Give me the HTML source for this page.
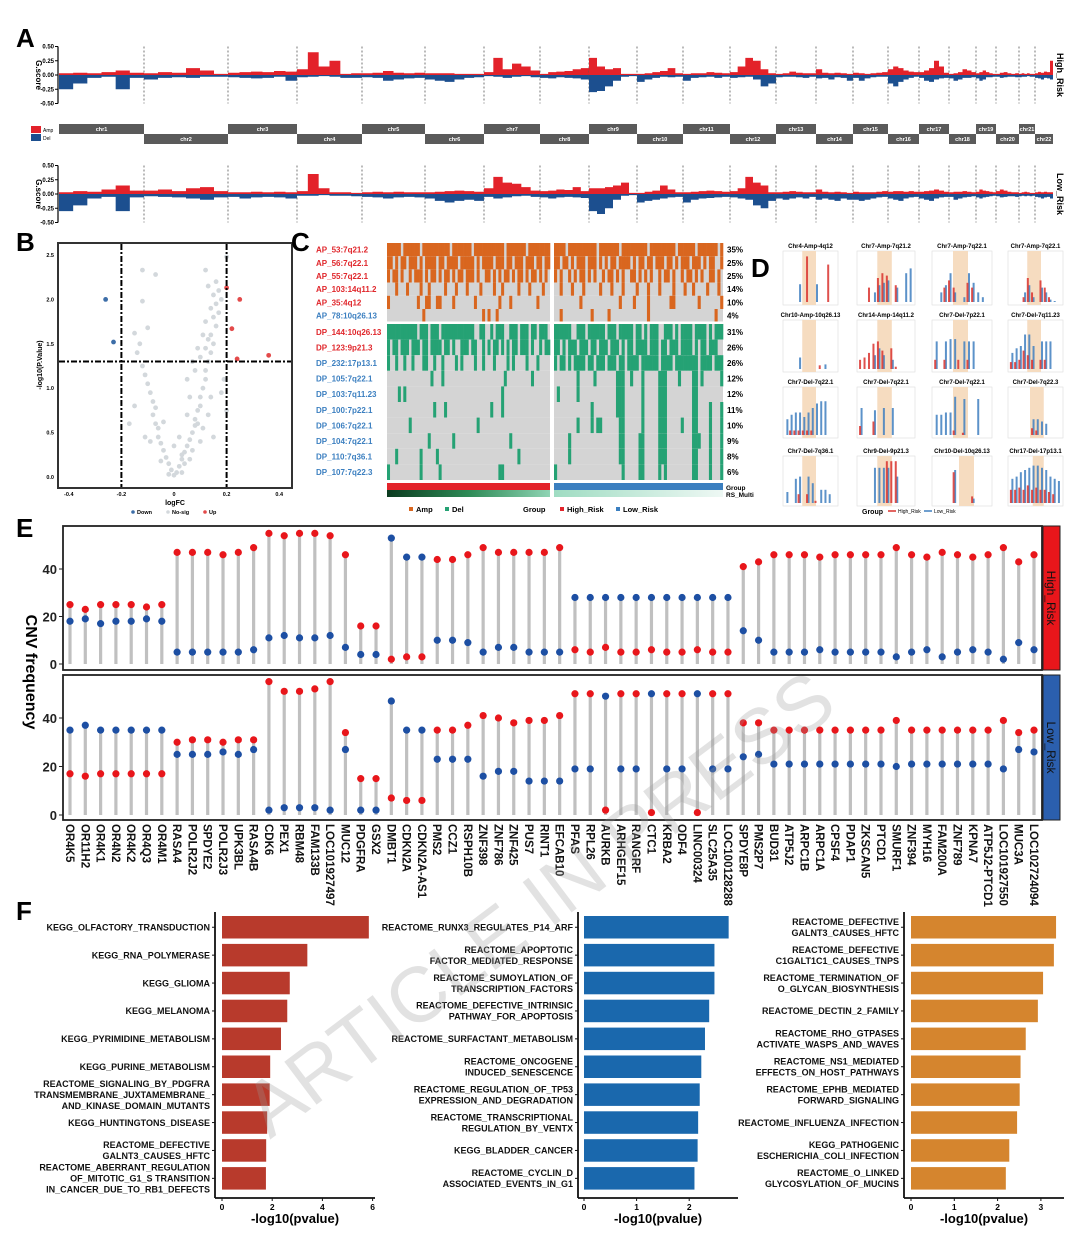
<!DOCTYPE html>
<html><head><meta charset="utf-8"><title>CNV figure</title>
<style>
html,body{margin:0;padding:0;background:#fff;}
svg{display:block;font-family:"Liberation Sans",Arial,sans-serif;}
</style></head>
<body>
<svg id="fig" width="1080" height="1233" viewBox="0 0 1080 1233" xmlns="http://www.w3.org/2000/svg">
<defs>
<linearGradient id="rsL" x1="0" x2="1" y1="0" y2="0"><stop offset="0" stop-color="#0b3b1f"/><stop offset="0.5" stop-color="#2e8b57"/><stop offset="1" stop-color="#8fd4b4"/></linearGradient>
<linearGradient id="rsR" x1="0" x2="1" y1="0" y2="0"><stop offset="0" stop-color="#9fdcc2"/><stop offset="1" stop-color="#eef8f4"/></linearGradient>
</defs>
</svg>
<script>
// ===================== DATA =====================
// Panel A
const chrNames = ["chr1","chr2","chr3","chr4","chr5","chr6","chr7","chr8","chr9","chr10","chr11","chr12","chr13","chr14","chr15","chr16","chr17","chr18","chr19","chr20","chr21","chr22"];
const chrLengths = [85,84,69,65,63,59,56,49,48,46,47,46,40,37,35,31,30,27,20,23,16,18];
const highAmp = [[.03,.04,.03,.05,.08,.04],[.03,.05,.04,.12,.08,.02],[.04,.05,.06,.05,.07,.06],[.1,.4,.15,.25,.02,.03],[.03,.04,.07,.04,.03,.04],[.03,.03,.03,.02,.02,.02],[.05,.3,.1,.2,.15,.08],[.02,.05,.06,.07,.1,.12],[.3,.15,.1,.12,.02,.02],[.02,.03,.05,.07,.12,.03],[.02,.03,.03,.05,.04,.03],[.05,.15,.3,.25,.1,.03],[.02,.03,.06,.04,.03,.03],[.1,.04,.03,.04,.03,.02],[.04,.03,.02,.03,.04,.05],[.1,.15,.12,.08,.06,.05],[.05,.08,.12,.25,.15,.04],[.02,.03,.05,.1,.08,.05],[.03,.05,.08,.05,.03,.02],[.02,.04,.05,.03,.02,.03],[.02,.03,.02,.03,.02,.02],[.03,.05,.04,.06,.05,.25]];
const highDel = [[.25,.15,.05,.03,.25,.05],[.08,.05,.04,.05,.03,.03],[.04,.05,.06,.05,.03,.1],[.04,.03,.02,.03,.05,.05],[.04,.05,.1,.08,.06,.05],[.08,.1,.12,.08,.05,.04],[.02,.03,.05,.03,.02,.04],[.05,.06,.04,.05,.06,.08],[.3,.28,.2,.1,.03,.02],[.12,.08,.05,.03,.04,.03],[.1,.05,.04,.03,.05,.03],[.05,.04,.03,.08,.2,.15],[.04,.03,.03,.04,.05,.03],[.06,.05,.08,.04,.05,.1],[.05,.1,.06,.04,.03,.03],[.15,.2,.12,.08,.05,.03],[.05,.1,.12,.08,.06,.05],[.06,.1,.08,.05,.05,.04],[.06,.1,.08,.04,.04,.03],[.03,.05,.04,.03,.03,.04],[.04,.03,.03,.02,.03,.03],[.05,.06,.08,.05,.06,.08]];
const lowAmp = [[.03,.05,.04,.08,.15,.06],[.06,.08,.05,.1,.12,.05],[.03,.03,.04,.03,.04,.03],[.05,.35,.1,.03,.03,.02],[.03,.04,.03,.04,.03,.03],[.03,.04,.05,.06,.05,.04],[.1,.3,.2,.18,.12,.06],[.05,.06,.08,.07,.12,.05],[.1,.1,.12,.15,.2,.02],[.02,.04,.06,.15,.08,.03],[.03,.04,.05,.06,.05,.04],[.05,.1,.3,.2,.15,.03],[.03,.04,.05,.04,.03,.03],[.08,.04,.03,.04,.03,.02],[.04,.03,.03,.03,.04,.05],[.04,.05,.05,.04,.05,.04],[.04,.05,.06,.08,.06,.04],[.03,.04,.04,.05,.04,.03],[.04,.08,.06,.05,.04,.03],[.05,.08,.06,.04,.03,.03],[.02,.03,.04,.03,.02,.02],[.03,.04,.03,.04,.03,.03]];
const lowDel = [[.3,.2,.08,.05,.3,.06],[.04,.05,.06,.08,.1,.06],[.05,.08,.06,.05,.06,.08],[.03,.03,.02,.03,.03,.04],[.05,.06,.08,.06,.05,.06],[.08,.12,.15,.12,.1,.12],[.05,.08,.06,.04,.03,.05],[.06,.08,.06,.05,.06,.07],[.3,.35,.25,.1,.03,.02],[.15,.12,.1,.08,.06,.05],[.15,.1,.08,.07,.06,.05],[.06,.08,.1,.2,.25,.12],[.08,.1,.08,.06,.08,.05],[.1,.08,.1,.12,.08,.1],[.1,.12,.1,.08,.06,.05],[.08,.1,.12,.08,.06,.05],[.08,.1,.12,.08,.06,.05],[.05,.1,.08,.06,.05,.04],[.06,.08,.06,.05,.04,.03],[.04,.06,.05,.04,.04,.05],[.04,.03,.04,.03,.04,.03],[.05,.06,.08,.06,.05,.08]];
const gTicks = [0.5,0.25,0,-0.25,-0.5];
const gTickLabels = ["0.50","0.25","0.00","-0.25","-0.50"];

// Panel B
const volcanoGray = [[0,0.02],[0.01,0.05],[-0.01,0.08],[0.02,0.12],[-0.02,0.15],[0.03,0.2],[-0.03,0.22],[0.04,0.28],[-0.04,0.3],[0.05,0.35],[-0.05,0.38],[0.06,0.42],[-0.06,0.45],[0.07,0.5],[-0.06,0.55],[0.08,0.58],[-0.07,0.6],[0.08,0.65],[-0.08,0.7],[0.09,0.75],[-0.07,0.78],[0.1,0.8],[-0.08,0.85],[0.1,0.9],[-0.09,0.95],[0.11,1.0],[-0.1,1.05],[0.12,1.1],[-0.11,1.15],[0.12,1.2],[-0.12,1.25],[0.13,1.3],[0.1,1.35],[0.14,1.4],[-0.14,1.4],[0.12,1.45],[0.15,1.5],[0.13,1.55],[-0.15,1.62],[0.14,1.6],[0.16,1.7],[0.12,1.75],[0.15,1.8],[0.17,1.85],[0.14,1.9],[0.16,1.95],[0.18,2.0],[0.15,2.05],[0.17,2.1],[0.13,2.15],[0.16,2.2],[0.12,2.33],[-0.12,2.33],[-0.07,2.28],[-0.12,1.98],[-0.1,1.68],[0.2,2.48],[0.05,0.7],[0.06,0.9],[0.09,0.6],[0.2,0.75],[0.18,0.95],[-0.15,0.8],[-0.17,0.6],[0.04,0.15],[0.03,0.05],[-0.02,0.03],[0.07,0.3],[0.1,0.4],[0.15,0.45],[-0.11,0.45],[0.19,1.1],[-0.13,1.5],[0.08,1.2],[0.05,1.1],[0.11,0.55],[0.02,0.45],[-0.04,0.62],[0.03,0.25],[0.09,1.45],[0.11,1.6],[0.07,1.3],[0.06,0.2],[-0.05,0.18],[0.13,0.7],[0.14,0.9],[-0.09,0.4],[0.0,0.35]];
const volcanoDown = [[-0.26,2.0],[-0.23,1.52]];
const volcanoUp = [[0.2,2.13],[0.25,2.0],[0.22,1.67],[0.24,1.33],[0.36,1.37]];
const bxTicks = [-0.4,-0.2,0,0.2,0.4];
const byTicks = [0,0.5,1,1.5,2,2.5];

// Panel C
const cnvRowNames = ["AP_53:7q21.2","AP_56:7q22.1","AP_55:7q22.1","AP_103:14q11.2","AP_35:4q12","AP_78:10q26.13","DP_144:10q26.13","DP_123:9p21.3","DP_232:17p13.1","DP_105:7q22.1","DP_103:7q11.23","DP_100:7p22.1","DP_106:7q22.1","DP_104:7q22.1","DP_110:7q36.1","DP_107:7q22.3"];
const cnvRowColors = ["r","r","r","r","r","b","r","r","b","b","b","b","b","b","b","b"];
const cnvPercents = ["35%","25%","25%","14%","10%","4%","31%","26%","26%","12%","12%","11%","10%","9%","8%","6%"];
const cnvHigh = ["111110111111011111111110111111101111111111101111111011111111","110101101110101111011011110111110101111011101101110111011011","101101001011101011010110101101110100110101011010110101101010","000100010000100100000100010001000010000100100000100010000100","100000000001001100110000100000001000000001000100000000010000","000000000000010000000000000000000001010010000000000000000000","111111111110111011101111111111110011001011100111011101101110","101101110111011011110110100111011001010110101011011101001011","100100100100011001001000010100001001000100001010000100010000","000000000000000010001000000000000000000000010000000001000000","000010100000000000000000000000000000000000100000000000000000","000000000000000001000100000000000000001000100000000000000000","000000001000000000000000000000000100000000000000000000000000","000000000000000100000000100000000000000000000100000000000000","000100000000100000100000000000000000000000000000100000000000","100000000000100000010000000000000000000001100000000000000000"];
const cnvLow = ["111101111111111011111110111111111011111111101111110111111101","110110101110111010101101111010110110111011010111011101011001","101001010110101001011010100110101010010110100101101010011010","001000100010000010001000100001000100010000100010010000100010","000000000100000000000001000010000100000001100000000100000001","001000000000010000010000000000000100000000000000000000000100","111111001110111111011101111101101011100111010111101111010111","110101110111011011101110101101111011101101110111101011011100","101101011110110111011101101111011111101111011111111011110111","000000001000001000000011100100010000011100001000011010000001","010000001000000000000011100000010000011100000000011000000000","000000000000010000000011100000010000011100000000011000010001","000000001000010110000001100000010000011100000100011000010001","000001000000000000000001100000110000011100000000011100010001","000001000000000000000001100000110000011100000000011000010001","100000000000000000000000100000110000010100000000011000010001"];

// Panel D
const dTitles = ["Chr4-Amp-4q12","Chr7-Amp-7q21.2","Chr7-Amp-7q22.1","Chr7-Amp-7q22.1","Chr10-Amp-10q26.13","Chr14-Amp-14q11.2","Chr7-Del-7p22.1","Chr7-Del-7q11.23","Chr7-Del-7q22.1","Chr7-Del-7q22.1","Chr7-Del-7q22.1","Chr7-Del-7q22.3","Chr7-Del-7q36.1","Chr9-Del-9p21.3","Chr10-Del-10q26.13","Chr17-Del-17p13.1"];
const dBlue = [[0,0,0,.37,0,0,0,.37,0,0,0,0],[0,0,0,.2,.35,.4,.45,0,.3,0,.6,.7],[0,.2,.35,.6,.2,0,.1,.6,.4,.2,.1,0],[0,0,0,.2,.35,.1,0,.3,.2,.05,.02,0],[0,0,0,.25,0,0,0,0,0,.1,0,0],[0,0,0,.3,.45,.3,0,.2,0,0,0,0],[.6,0,.6,.65,.65,0,.6,.6,.6,0,0,0],[.35,.45,.5,.75,.75,.5,0,.6,.6,.6,0,0],[.35,.45,.5,.5,.4,.5,.6,.7,.75,.75,0,0],[.6,0,0,.55,0,.6,0,.6,0,0,0,0],[.45,.45,.5,.5,.85,0,.8,0,0,.8,0,0],[0,0,0,0,0,.35,.35,.3,.25,0,0,0],[.25,0,.55,.6,0,.6,.45,0,.3,.3,.2,0],[0,0,0,.8,.8,.8,.8,0,.6,0,0,0],[0,0,0,0,.75,0,0,0,.1,0,0,0],[.55,.6,.7,.75,.8,.85,.85,.8,.75,.6,.55,.5]];
const dRed = [[0,0,0,0,0,.95,0,0,0,0,.78,0],[0,0,.3,0,.5,.6,.55,0,.35,0,0,0],[0,0,.3,.45,.3,0,0,.4,.3,0,0,0],[0,0,0,.1,.5,.2,0,.45,.3,.1,0,0],[0,0,0,0,0,0,0,0,.08,0,0,0],[.2,.25,.35,.55,.6,.4,0,.45,.05,0,0,0],[.2,0,.2,0,0,.2,0,.2,0,0,0,0],[.15,.15,.2,.4,.3,.2,0,.2,.2,0,0,0],[0,.1,.1,.1,.1,.1,.1,0,0,0,0,0],[.2,0,0,.3,0,0,0,0,0,0,0,0],[0,0,0,0,.1,0,.05,0,0,0,0,0],[0,0,0,0,0,.15,.1,0,0,0,0,0],[0,0,0,.2,0,.2,0,.05,0,0,0,0],[0,0,0,0,0,0,.95,.95,.95,0,0,0],[0,0,0,0,.7,0,0,0,.15,0,0,0],[.3,.3,.35,.3,.4,.3,.35,.3,.3,.25,.2,0]];
const dBands = [[.35,.6],[.35,.6],[.35,.6],[.35,.6],[.35,.6],[.35,.6],[.35,.6],[.35,.6],[.35,.6],[.35,.6],[.35,.6],[.4,.65],[.35,.6],[.35,.6],[.45,.7],[.45,.65]];

// Panel E
const genes = ["OR4K5","OR11H2","OR4K1","OR4N2","OR4K2","OR4Q3","OR4M1","RASA4","POLR2J2","SPDYE2","POLR2J3","UPK3BL","RASA4B","CDK6","PEX1","RBM48","FAM133B","LOC101927497","MUC12","PDGFRA","GSX2","DMBT1","CDKN2A","CDKN2A-AS1","PMS2","CCZ1","RSPH10B","ZNF398","ZNF786","ZNF425","PUS7","RINT1","EFCAB10","PFAS","RPL26","AURKB","ARHGEF15","RANGRF","CTC1","KRBA2","ODF4","LINC00324","SLC25A35","LOC100128288","SPDYE8P","PMS2P7","BUD31","ATP5J2","ARPC1B","ARPC1A","CPSF4","PDAP1","ZKSCAN5","PTCD1","SMURF1","ZNF394","MYH16","FAM200A","ZNF789","KPNA7","ATP5J2-PTCD1","LOC101927550","MUC3A","LOC102724094"];
const highRed = [25,23,25,25,25,24,25,47,47,47,46,47,49,55,54,55,55,54,46,16,16,2,3,3,44,44,46,49,47,47,47,47,49,6,5,7,5,5,6,5,5,6,5,5,41,43,46,46,46,45,46,46,46,46,49,46,45,47,46,45,46,49,43,46];
const highBlue = [18,19,17,18,18,19,18,5,5,5,5,5,6,11,12,11,11,12,7,4,4,53,45,45,10,10,9,5,7,7,5,5,5,28,28,28,28,28,28,28,28,28,28,28,14,10,5,5,5,6,5,5,5,5,3,5,6,3,5,6,5,2,9,6];
const lowRed = [17,16,17,17,17,17,17,30,31,31,30,31,31,55,51,51,52,55,34,15,15,7,6,6,35,35,37,41,40,38,39,39,41,50,50,2,50,50,1,50,50,1,50,50,38,38,35,35,35,35,35,35,35,35,39,35,35,35,35,35,35,39,34,35];
const lowBlue = [35,37,35,35,35,35,35,25,25,25,26,25,27,2,3,3,3,2,27,2,2,47,35,35,23,23,23,16,18,18,14,14,14,19,19,49,19,19,50,19,19,50,19,19,24,25,21,21,21,21,21,21,21,21,20,21,21,21,21,21,21,19,27,26];
const eTicks = [0,20,40];

// Panel F
const f1Terms = ["KEGG_OLFACTORY_TRANSDUCTION","KEGG_RNA_POLYMERASE","KEGG_GLIOMA","KEGG_MELANOMA","KEGG_PYRIMIDINE_METABOLISM","KEGG_PURINE_METABOLISM","REACTOME_SIGNALING_BY_PDGFRA\nTRANSMEMBRANE_JUXTAMEMBRANE_\nAND_KINASE_DOMAIN_MUTANTS","KEGG_HUNTINGTONS_DISEASE","REACTOME_DEFECTIVE\nGALNT3_CAUSES_HFTC","REACTOME_ABERRANT_REGULATION\nOF_MITOTIC_G1_S TRANSITION\nIN_CANCER_DUE_TO_RB1_DEFECTS"];
const f1Values = [5.85,3.4,2.7,2.6,2.35,1.92,1.9,1.8,1.76,1.75];
const f1Ticks = [0,2,4,6];
const f2Terms = ["REACTOME_RUNX3_REGULATES_P14_ARF","REACTOME_APOPTOTIC\nFACTOR_MEDIATED_RESPONSE","REACTOME_SUMOYLATION_OF\nTRANSCRIPTION_FACTORS","REACTOME_DEFECTIVE_INTRINSIC\nPATHWAY_FOR_APOPTOSIS","REACTOME_SURFACTANT_METABOLISM","REACTOME_ONCOGENE\nINDUCED_SENESCENCE","REACTOME_REGULATION_OF_TP53\nEXPRESSION_AND_DEGRADATION","REACTOME_TRANSCRIPTIONAL\nREGULATION_BY_VENTX","KEGG_BLADDER_CANCER","REACTOME_CYCLIN_D\nASSOCIATED_EVENTS_IN_G1"];
const f2Values = [2.75,2.48,2.48,2.38,2.3,2.23,2.2,2.17,2.16,2.1];
const f2Ticks = [0,1,2];
const f3Terms = ["REACTOME_DEFECTIVE\nGALNT3_CAUSES_HFTC","REACTOME_DEFECTIVE\nC1GALT1C1_CAUSES_TNPS","REACTOME_TERMINATION_OF\nO_GLYCAN_BIOSYNTHESIS","REACTOME_DECTIN_2_FAMILY","REACTOME_RHO_GTPASES\nACTIVATE_WASPS_AND_WAVES","REACTOME_NS1_MEDIATED\nEFFECTS_ON_HOST_PATHWAYS","REACTOME_EPHB_MEDIATED\nFORWARD_SIGNALING","REACTOME_INFLUENZA_INFECTION","KEGG_PATHOGENIC\nESCHERICHIA_COLI_INFECTION","REACTOME_O_LINKED\nGLYCOSYLATION_OF_MUCINS"];
const f3Values = [3.35,3.3,3.05,2.93,2.65,2.53,2.51,2.45,2.27,2.19];
const f3Ticks = [0,1,2,3];

// ===================== HELPERS =====================
const NS = "http://www.w3.org/2000/svg";
const svg = document.getElementById("fig");
function mk(tag, attrs, parent) {
  const el = document.createElementNS(NS, tag);
  for (const k in attrs) el.setAttribute(k, attrs[k]);
  (parent || svg).appendChild(el);
  return el;
}
function txt(s, attrs, parent) {
  const el = mk("text", attrs, parent);
  el.textContent = s;
  return el;
}
function grp(name) {
  const g = mk("g", {});
  
  
  return g;
}
function panelLabel(s, x, y) {
  const t = txt(s, {x: x, y: y, "font-size": 26, "font-weight": "bold"});
  
  
}

// ===================== PANEL A =====================
(function(){
  const gA = grp("panel-a");
  panelLabel("A", 16, 47);
  const x0 = 59, x1 = 1053;
  const total = chrLengths.reduce((a,b)=>a+b,0);
  const starts = []; let acc = 0;
  chrLengths.forEach(l => { starts.push(x0 + acc/total*(x1-x0)); acc += l; });
  const ends = starts.map((s,i)=> s + chrLengths[i]/total*(x1-x0));
  function track(zeroY, amp, del, name, label) {
    const g = mk("g", {}, gA);
    
    
    const sc = v => zeroY - v/0.5*28.5;
    mk("line", {x1:58, x2:58, y1:sc(0.5), y2:sc(-0.5), stroke:"#000", "stroke-width":1.2}, g);
    gTicks.forEach((t,i)=>{
      mk("line", {x1:55, x2:58, y1:sc(t), y2:sc(t), stroke:"#000"}, g);
      const tl = txt(gTickLabels[i], {x:54, y:sc(t)+2, "font-size":6, "font-weight":"bold", "text-anchor":"end"}, g);
      
      
    });
    const yt = txt("G.score", {x:0, y:0, "font-size":8, "font-weight":"bold", "text-anchor":"middle", transform:`translate(36,${zeroY}) rotate(90)`}, g);
    
    
    chrNames.forEach((c,i)=>{
      if (i>0) {
        const dl = mk("line", {x1:starts[i], x2:starts[i], y1:sc(0.5), y2:sc(-0.5), stroke:"#555", "stroke-dasharray":"2,2", "stroke-width":0.8}, g);
        
        
      }
      const bins = amp[i].length, w = (ends[i]-starts[i])/bins;
      let pa = `M${starts[i]},${zeroY}`, pd = `M${starts[i]},${zeroY}`;
      for (let b=0;b<bins;b++){
        const bx = starts[i]+b*w;
        pa += ` L${bx},${sc(amp[i][b])} L${bx+w},${sc(amp[i][b])}`;
        pd += ` L${bx},${sc(-del[i][b])} L${bx+w},${sc(-del[i][b])}`;
      }
      pa += ` L${ends[i]},${zeroY} Z`; pd += ` L${ends[i]},${zeroY} Z`;
      const ea = mk("path", {d:pa, fill:"#e3222a"}, g);
      
      
      const ed = mk("path", {d:pd, fill:"#1c4f8f"}, g);
      
      
    });
    const rl = txt(label, {x:0, y:0, "font-size":9, "font-weight":"bold", "text-anchor":"middle", transform:`translate(1057,${zeroY}) rotate(90)`}, g);
    
    
  }
  track(75, highAmp, highDel, "high-risk-gscore-track", "High_Risk");
  track(194, lowAmp, lowDel, "low-risk-gscore-track", "Low_Risk");
  // chromosome band
  const gb = mk("g", {}, gA);
  
  
  chrNames.forEach((c,i)=>{
    const top = i%2===0;
    const r = mk("rect", {x:starts[i], y: top?124:134, width: ends[i]-starts[i], height:10, fill:"#5a5a5a"}, gb);
    
    
    const t = txt(c, {x:(starts[i]+ends[i])/2, y: top?131:141, "font-size":5.5, fill:"#fff", "font-weight":"bold", "text-anchor":"middle"}, gb);
    
    
  });
  const la = mk("rect", {x:31, y:126, width:10, height:7, fill:"#e3222a"}, gA);
  
  
  const ld = mk("rect", {x:31, y:134, width:10, height:7, fill:"#1c4f8f"}, gA);
  
  
  const lat = txt("Amp", {x:43, y:132, "font-size":5}, gA);
  
  
  const ldt = txt("Del", {x:43, y:140, "font-size":5}, gA);
  
  
})();

// ===================== PANEL B =====================
(function(){
  const g = grp("panel-b-volcano");
  panelLabel("B", 16, 251);
  const X = v => 174 + v*263, Y = v => 477 - v*88.8;
  const fr = mk("rect", {x:58, y:243, width:234, height:245, fill:"none", stroke:"#333", "stroke-width":2}, g);
  
  
  volcanoGray.forEach(p=>{
    const c = mk("circle", {cx:X(p[0]), cy:Y(p[1]), r:2.4, fill:"#d3d8dc"}, g);
    
    
  });
  volcanoDown.forEach(p=>{
    const c = mk("circle", {cx:X(p[0]), cy:Y(p[1]), r:2.4, fill:"#3d6ea8"}, g);
    
    
  });
  volcanoUp.forEach(p=>{
    const c = mk("circle", {cx:X(p[0]), cy:Y(p[1]), r:2.4, fill:"#e34a4a"}, g);
    
    
  });
  [-0.2,0.2].forEach(v=>{
    const l = mk("line", {x1:X(v), x2:X(v), y1:244, y2:487, stroke:"#000", "stroke-width":2, "stroke-dasharray":"6,2,2,2"}, g);
    
    
  });
  const hl = mk("line", {x1:59, x2:291, y1:Y(1.3), y2:Y(1.3), stroke:"#000", "stroke-width":2, "stroke-dasharray":"6,2,2,2"}, g);
  
  
  bxTicks.forEach(t=>{
    const tl = txt(String(t), {x:X(t), y:496, "font-size":5.5, "font-weight":"bold", "text-anchor":"middle"}, g);
    
    
  });
  byTicks.forEach(t=>{
    const tl = txt(t.toFixed(1), {x:54, y:Y(t)+2, "font-size":5.5, "font-weight":"bold", "text-anchor":"end"}, g);
    
    
  });
  const xt = txt("logFC", {x:175, y:505, "font-size":7, "font-weight":"bold", "text-anchor":"middle"}, g);
  
  
  const yt = txt("-log10(P.Value)", {x:0, y:0, "font-size":7, "font-weight":"bold", "text-anchor":"middle", transform:"translate(42,365) rotate(-90)"}, g);
  
  
  [["Down","#3d6ea8",133],["No-sig","#d3d8dc",168],["Up","#e34a4a",205]].forEach(l=>{
    const c = mk("circle", {cx:l[2], cy:512, r:1.8, fill:l[1]}, g);
    
    
    const t = txt(l[0], {x:l[2]+4, y:514, "font-size":5.5, "font-weight":"bold"}, g);
    
    
  });
})();

// ===================== PANEL C =====================
(function(){
  const g = grp("panel-c-heatmap");
  panelLabel("C", 291, 251);
  const rowY = [243,256.2,269.4,282.6,295.8,309,324,339.6,355.2,370.8,386.4,402,417.6,433.2,448.8,464.4];
  const rowH = [13.2,13.2,13.2,13.2,13.2,13,15.6,15.6,15.6,15.6,15.6,15.6,15.6,15.6,15.6,15.6];
  const blocks = [[387,550],[554,723]];
  cnvRowNames.forEach((name,r)=>{
    const isAmp = name.startsWith("AP");
    const col = isAmp ? "#d9661f" : "#25a274";
    [cnvHigh[r], cnvLow[r]].forEach((s,b)=>{
      const [bx0,bx1] = blocks[b];
      const bg = mk("rect", {x:bx0, y:rowY[r], width:bx1-bx0, height:rowH[r], fill:"#d4d4d4"}, g);
      
      
      const w = (bx1-bx0)/s.length;
      for (let i=0;i<s.length;i++){
        if (s[i]==="1"){
          const c = mk("rect", {x:bx0+i*w, y:rowY[r], width:w+0.3, height:rowH[r], fill:col}, g);
          
          
        }
      }
    });
    const t = txt(name, {x:316, y:rowY[r]+rowH[r]/2+3, "font-size":8, "font-weight":"bold", fill: cnvRowColors[r]==="r" ? "#e0262b" : "#3b7fc0"}, g);
    
    
    const p = txt(cnvPercents[r], {x:727, y:rowY[r]+rowH[r]/2+3, "font-size":8, "font-weight":"bold"}, g);
    
    
  });
  // white separators
  const s1 = mk("rect", {x:387, y:321.5, width:336, height:2.5, fill:"#fff"}, g);
  
  
  const gr1 = mk("rect", {x:387, y:483, width:163, height:7, fill:"#e3242b"}, g);
  
  
  const gr2 = mk("rect", {x:554, y:483, width:169, height:7, fill:"#3b7fc0"}, g);
  
  
  const rs1 = mk("rect", {x:387, y:490, width:163, height:7, fill:"url(#rsL)"}, g);
  
  
  const rs2 = mk("rect", {x:554, y:490, width:169, height:7, fill:"url(#rsR)"}, g);
  
  
  const ga = txt("Group", {x:726, y:490, "font-size":6.5, "font-weight":"bold"}, g);
  
  
  const ra = txt("RS_Multi", {x:726, y:497, "font-size":6.5, "font-weight":"bold"}, g);
  
  
  [["#d9661f",409,"Amp"],["#25a274",445,"Del"],["#e3242b",560,"High_Risk"],["#3b7fc0",616,"Low_Risk"]].forEach(l=>{
    const r = mk("rect", {x:l[1], y:507, width:4, height:4, fill:l[0]}, g);
    
    
    const t = txt(l[2], {x:l[1]+7, y:512, "font-size":7.5, "font-weight":"bold"}, g);
    
    
  });
  const gl = txt("Group", {x:523, y:512, "font-size":7.5, "font-weight":"bold"}, g);
  
  
})();

// ===================== PANEL D =====================
(function(){
  const g = grp("panel-d-small-multiples");
  panelLabel("D", 751, 277);
  const colX = [[783,838],[857,915],[932,992],[1008,1063]];
  const rowYs = [[251,305],[320,372],[387,438],[456,506]];
  dTitles.forEach((title,i)=>{
    const [px0,px1] = colX[i%4], [py0,py1] = rowYs[Math.floor(i/4)];
    const sub = mk("g", {}, g);
    
    
    const fr = mk("rect", {x:px0, y:py0, width:px1-px0, height:py1-py0, fill:"#fff", stroke:"#ddd", "stroke-width":0.6}, sub);
    
    
    const w = px1-px0, h = py1-py0;
    const band = mk("rect", {x:px0+dBands[i][0]*w, y:py0, width:(dBands[i][1]-dBands[i][0])*w, height:h, fill:"#f6dcc0"}, sub);
    
    
    const n = dBlue[i].length, step = w/(n+1);
    for (let k=0;k<n;k++){
      const bx = px0 + step*(k+0.8);
      if (dBlue[i][k]>0){
        const b = mk("rect", {x:bx, y:py1-3-dBlue[i][k]*(h-6), width:2, height:dBlue[i][k]*(h-6), fill:"#3f7fbf", opacity:0.85}, sub);
        
        
      }
      if (dRed[i][k]>0){
        const b = mk("rect", {x:bx-1.5, y:py1-3-dRed[i][k]*(h-6), width:2, height:dRed[i][k]*(h-6), fill:"#d9332e", opacity:0.85}, sub);
        
        
      }
    }
    const t = txt(title, {x:(px0+px1)/2, y:py0-3, "font-size":6, "font-weight":"bold", "text-anchor":"middle"}, sub);
    
    
  });
  const lt = txt("Group", {x:862, y:514, "font-size":7, "font-weight":"bold"}, g);
  
  
  const l1 = mk("line", {x1:888, x2:896, y1:511, y2:511, stroke:"#d9332e", "stroke-width":1.5}, g);
  
  
  const t1 = txt("High_Risk", {x:898, y:513, "font-size":5}, g);
  
  
  const l2 = mk("line", {x1:924, x2:932, y1:511, y2:511, stroke:"#3f7fbf", "stroke-width":1.5}, g);
  
  
  const t2 = txt("Low_Risk", {x:934, y:513, "font-size":5}, g);
  
  
})();

// ===================== PANEL E =====================
(function(){
  const g = grp("panel-e-lollipop");
  panelLabel("E", 16, 537);
  const xFirst = 70, xLast = 1034;
  const X = i => xFirst + i*(xLast-xFirst)/(genes.length-1);
  function panel(zeroY, pxPer40, red, blue, frameY, frameH, stripCol, label, name){
    const sub = mk("g", {}, g);
    
    
    const Y = v => zeroY - v*pxPer40/40;
    genes.forEach((gn,i)=>{
      const top = Math.max(red[i], blue[i]);
      const st = mk("line", {x1:X(i), x2:X(i), y1:Y(0), y2:Y(top), stroke:"#c0c0c0", "stroke-width":3.2}, sub);
      
      
      const rd = mk("circle", {cx:X(i), cy:Y(red[i]), r:3.6, fill:"#e8161b"}, sub);
      
      
      const bd = mk("circle", {cx:X(i), cy:Y(blue[i]), r:3.6, fill:"#1d4fa3"}, sub);
      
      
    });
    const fr = mk("rect", {x:63, y:frameY, width:979, height:frameH, fill:"none", stroke:"#222", "stroke-width":1.8}, sub);
    
    
    eTicks.forEach(t=>{
      const tl = txt(String(t), {x:57, y:Y(t)+5, "font-size":13, "font-weight":"bold", "text-anchor":"end", fill:"#222"}, sub);
      
      
      mk("line", {x1:59, x2:63, y1:Y(t), y2:Y(t), stroke:"#222"}, sub);
    });
    const strip = mk("rect", {x:1043, y:frameY, width:17, height:frameH, fill:stripCol, stroke:"#222", "stroke-width":1}, sub);
    
    
    const sl = txt(label, {x:0, y:0, "font-size":12, "text-anchor":"middle", fill:"#111", transform:`translate(1047,${frameY+frameH/2}) rotate(90)`}, sub);
    
    
  }
  panel(664, 95, highRed, highBlue, 526, 144, "#e8161b", "High_Risk", "high-risk-facet");
  panel(815, 97, lowRed, lowBlue, 675, 145, "#2b5fae", "Low_Risk", "low-risk-facet");
  genes.forEach((gn,i)=>{
    const t = txt(gn, {x:0, y:0, "font-size":11.5, "font-weight":"bold", fill:"#111", transform:`translate(${X(i)-4},824) rotate(90)`}, g);
    
    
  });
  const yt = txt("CNV frequency", {x:0, y:0, "font-size":16, "font-weight":"bold", "text-anchor":"middle", transform:"translate(26,672) rotate(90)"}, g);
  
  
})();

// ===================== PANEL F =====================
(function(){
  const g = grp("panel-f-enrichment");
  panelLabel("F", 16, 920);
  function bars(terms, vals, ticks, axisX, zeroX, perUnit, xEnd, color, name){
    const sub = mk("g", {}, g);
    
    
    const top = 916, step = 27.9, bh = 22.5;
    terms.forEach((term,i)=>{
      const y = top + i*step;
      const b = mk("rect", {x:zeroX, y:y, width:vals[i]*perUnit, height:bh, fill:color}, sub);
      
      
      const lines = term.split("\n");
      const cy = y + bh/2;
      lines.forEach((ln,k)=>{
        const t = txt(ln, {x:axisX-5, y: cy + (k-(lines.length-1)/2)*11 + 3.2, "font-size":9, "font-weight":"bold", "text-anchor":"end", fill:"#111"}, sub);
        
        
      });
      mk("line", {x1:axisX-3, x2:axisX, y1:cy, y2:cy, stroke:"#111"}, sub);
    });
    const ya = mk("line", {x1:axisX, x2:axisX, y1:912, y2:1198, stroke:"#111", "stroke-width":1.8}, sub);
    
    
    const xa = mk("line", {x1:axisX, x2:xEnd, y1:1198, y2:1198, stroke:"#111", "stroke-width":1.8}, sub);
    
    
    ticks.forEach(t=>{
      mk("line", {x1:zeroX+t*perUnit, x2:zeroX+t*perUnit, y1:1198, y2:1201, stroke:"#111"}, sub);
      const tl = txt(String(t), {x:zeroX+t*perUnit, y:1210, "font-size":8.5, "font-weight":"bold", "text-anchor":"middle"}, sub);
      
      
    });
    const xt = txt("-log10(pvalue)", {x:(axisX+xEnd)/2, y:1223, "font-size":13, "font-weight":"bold", "text-anchor":"middle"}, sub);
    
    
  }
  bars(f1Terms, f1Values, f1Ticks, 215, 222, 25.1, 375, "#b83a2c", "kegg-enrichment-high");
  bars(f2Terms, f2Values, f2Ticks, 578, 584, 52.6, 738, "#1a68ad", "reactome-enrichment-mid");
  bars(f3Terms, f3Values, f3Ticks, 904, 911, 43.3, 1064, "#d5852e", "reactome-enrichment-low");
})();

// ===================== WATERMARK =====================
(function(){
  const w = txt("ARTICLE IN PRESS", {x:0, y:0, "font-size":78, fill:"#9a9a9a", opacity:0.28, "text-anchor":"middle", transform:"translate(555,925) rotate(-37)"});
  
  
})();
</script>
</body></html>
